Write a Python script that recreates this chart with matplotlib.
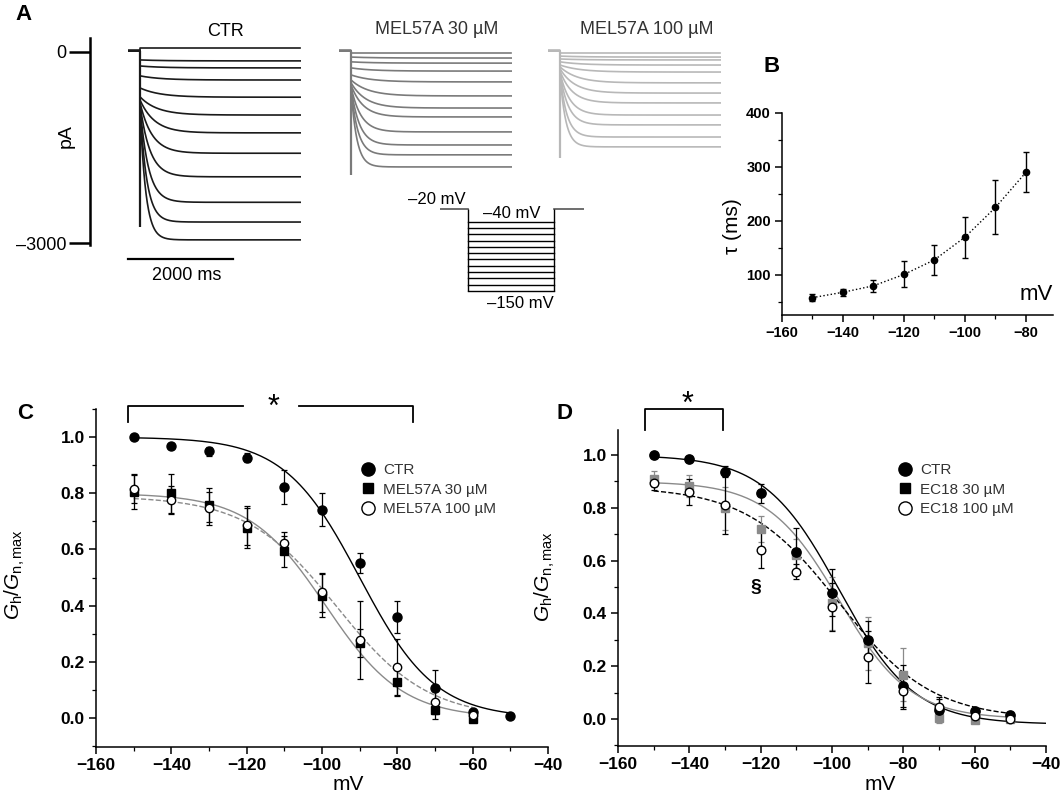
import numpy as np
import matplotlib
matplotlib.use('Agg')
import matplotlib.pyplot as plt
from matplotlib.lines import Line2D
from matplotlib.ticker import MultipleLocator

W, H = 1063, 798
plt.rcParams['font.family'] = ['Liberation Sans', 'DejaVu Sans']
plt.rcParams['mathtext.fontset'] = 'custom'
plt.rcParams['mathtext.rm'] = 'Liberation Sans'
plt.rcParams['mathtext.it'] = 'Liberation Sans:italic'
TICKFONT = ['Liberation Sans Narrow', 'Liberation Sans', 'DejaVu Sans']

# ---------------- panel A: Ih traces (pA), steps -40 ... -150 mV
step_mv = [-40, -50, -60, -70, -80, -90, -100, -110, -120, -130, -140, -150]
trace_tau_ms = [450, 450, 420, 400, 380, 330, 280, 230, 190, 160, 130, 110]
ctr_ss = [60, -140, -250, -440, -710, -990, -1270, -1590, -1960, -2360, -2670, -2950]
ctr_inst = [60, -125, -220, -375, -565, -705, -755, -800, -830, -865, -880, -910]
mel30_ss = [-15, -95, -175, -300, -470, -690, -880, -1020, -1255, -1460, -1615, -1805]
mel30_inst = [-15, -80, -155, -250, -360, -440, -485, -520, -550, -565, -580, -595]
mel100_ss = [-15, -80, -125, -205, -315, -485, -645, -800, -990, -1145, -1335, -1490]
mel100_inst = [-15, -65, -110, -155, -205, -235, -265, -300, -330, -345, -360, -375]
transient_min = {'CTR': -2750, 'MEL30': -1930, 'MEL100': -1665}
hold_pA = 20
step_len_ms = 3050

# ---------------- panel B: tau vs voltage
tau_v = [-150, -140, -130, -120, -110, -100, -90, -80]
tau_ms = [58, 68, 80, 101, 128, 170, 225, 290]
tau_err = [6, 6, 11, 24, 28, 38, 50, 37]

# ---------------- panel C: MEL57A
v_c = [-150, -140, -130, -120, -110, -100, -90, -80, -70, -60, -50]
c_ctr = [1.00, 0.97, 0.949, 0.927, 0.823, 0.742, 0.552, 0.360, 0.107, 0.02, 0.006]
c_ctr_err = [0.005, 0.01, 0.016, 0.015, 0.06, 0.06, 0.035, 0.057, 0.065, 0.01, 0.005]
c_mel30 = [0.805, 0.80, 0.758, 0.677, 0.593, 0.436, 0.268, 0.129, 0.027, -0.002]
c_mel30_err = [0.06, 0.07, 0.06, 0.07, 0.055, 0.075, 0.05, 0.05, 0.03, 0.005]
c_mel100 = [0.817, 0.776, 0.746, 0.686, 0.623, 0.447, 0.278, 0.181, 0.056, 0.012]
c_mel100_err = [0.05, 0.05, 0.06, 0.07, 0.04, 0.07, 0.14, 0.10, 0.04, 0.01]
# Boltzmann fits: (A1, A2, V50, k, v_start, v_end)
fit_c = {'CTR': (1.0, 0.0, -90, 10, -150, -50),
         'MEL30': (0.80, 0.0, -99, 10.2, -150, -60),
         'MEL100': (0.79, 0.0, -96, 12, -150, -60)}

# ---------------- panel D: EC18
v_d = [-150, -140, -130, -120, -110, -100, -90, -80, -70, -60, -50]
d_ctr = [1.00, 0.987, 0.937, 0.855, 0.634, 0.479, 0.30, 0.126, 0.035, 0.03, 0.016]
d_ctr_err = [0.005, 0.01, 0.02, 0.035, 0.09, 0.09, 0.07, 0.08, 0.04, 0.01, 0.01]
d_ec30 = [0.91, 0.883, 0.798, 0.719, 0.622, 0.439, 0.287, 0.168, 0.004, -0.003, 0.0]
d_ec30_err = [0.03, 0.04, 0.08, 0.05, 0.06, 0.10, 0.10, 0.10, 0.02, 0.01, 0.01]
d_ec100 = [0.893, 0.861, 0.811, 0.641, 0.559, 0.424, 0.235, 0.108, 0.045, 0.013, 0.0]
d_ec100_err = [0.025, 0.05, 0.11, 0.07, 0.03, 0.09, 0.10, 0.07, 0.04, 0.01, 0.01]
fit_d = {'CTR': (1.0, -0.02, -98, 10.5, -150, -40),
         'EC30': (0.90, 0.0, -98, 10, -150, -50),
         'EC100': (0.88, 0.0, -98, 13, -150, -50)}

sig_c = (-151.5, -75.9)
sig_d = (-152.4, -130.6)


def rect(l, t, r, b):
    return [l / W, 1 - b / H, (r - l) / W, (b - t) / H]


def fx(px):
    return px / W


def fy(py):
    return 1 - py / H


def boltz(p):
    a1, a2, v50, k, v0, v1 = p
    v = np.linspace(v0, v1, 200)
    return v, a2 + (a1 - a2) / (1 + np.exp((v - v50) / k))


def draw_traces(ax, ss, inst, tmin, color):
    t = np.linspace(0, step_len_ms, 400)
    for s, i0, tau in zip(ss, inst, trace_tau_ms):
        y = s + (i0 - s) * np.exp(-t / tau)
        ax.plot(np.r_[-230, 0, t], np.r_[hold_pA, hold_pA, y], color=color, lw=1.2)
    ax.vlines(0, tmin, hold_pA, color=color, lw=1.6)
    ax.set_xlim(-230, 3060)
    ax.set_ylim(-3109, 188)
    ax.axis('off')


fig = plt.figure(figsize=(W / 100, H / 100), dpi=100)

# ---- A
ax_ctr = fig.add_axes(rect(128, 40, 300.7, 250))
draw_traces(ax_ctr, ctr_ss, ctr_inst, transient_min['CTR'], '#1a1a1a')
ax_ctr.plot([-230, 1770], [-3250, -3250], color='k', lw=1.6, clip_on=False)
ax_m30 = fig.add_axes(rect(339, 40, 511.7, 250))
draw_traces(ax_m30, mel30_ss, mel30_inst, transient_min['MEL30'], '#7a7a7a')
ax_m100 = fig.add_axes(rect(548, 40, 720.7, 250))
draw_traces(ax_m100, mel100_ss, mel100_inst, transient_min['MEL100'], '#b8b8b8')

ax_sc = fig.add_axes(rect(90, 40, 100, 250))
ax_sc.set_ylim(-3109, 188)
for s in ['top', 'right', 'bottom']:
    ax_sc.spines[s].set_visible(False)
ax_sc.spines['left'].set_bounds(-3030, 220)
ax_sc.spines['left'].set_linewidth(1.8)
ax_sc.set_xticks([])
ax_sc.set_yticks([0, -3000])
ax_sc.set_yticklabels(['0', '–3000'], fontsize=13)
ax_sc.tick_params(axis='y', length=15, width=1.8, pad=2)
ax_sc.patch.set_alpha(0)

fig.text(fx(66), fy(136), 'pA', rotation=90, ha='center', va='center', fontsize=14)
fig.text(fx(187), fy(275), '2000 ms', ha='center', va='center', fontsize=13)
fig.text(fx(225), fy(31), 'CTR', ha='center', va='center', fontsize=13)
fig.text(fx(437), fy(30), 'MEL57A 30 µM', ha='center', va='center', fontsize=13, color='#333333')
fig.text(fx(647), fy(30), 'MEL57A 100 µM', ha='center', va='center', fontsize=13, color='#333333')
fig.text(fx(24), fy(14), 'A', ha='center', va='center', fontsize=16, fontweight='bold')

# protocol
ax_p = fig.add_axes(rect(440, 200, 584, 300))
ax_p.set_xlim(-977, 4047)
ax_p.set_ylim(-164.3, -5.7)
ax_p.plot([-977, 0], [-20, -20], color='#555555', lw=1.2)
ax_p.plot([3000, 4047], [-20, -20], color='#555555', lw=1.2)
for v in step_mv:
    ax_p.plot([0, 3000], [v, v], color='k', lw=1.0)
ax_p.vlines([0, 3000], min(step_mv), -20, color='k', lw=1.0)
ax_p.axis('off')
fig.text(fx(437), fy(199), '–20 mV', ha='center', va='center', fontsize=12)
fig.text(fx(512), fy(214), '–40 mV', ha='center', va='center', fontsize=12)
fig.text(fx(520), fy(303), '–150 mV', ha='center', va='center', fontsize=12)


def style_axes(ax, size):
    for s in ['top', 'right']:
        ax.spines[s].set_visible(False)
    for s in ['left', 'bottom']:
        ax.spines[s].set_linewidth(1.1)
    ax.tick_params(which='major', direction='out', length=5, width=1.1, pad=3)
    ax.tick_params(which='minor', direction='out', length=3, width=0.9)
    for lab in ax.get_xticklabels() + ax.get_yticklabels():
        lab.set_family(TICKFONT)
        lab.set_fontweight('bold')
        lab.set_fontsize(size)


# ---- B
ax_b = fig.add_axes(rect(782, 113, 1053, 315))
ax_b.plot(tau_v, tau_ms, ':', color='k', lw=1.0)
ax_b.errorbar(tau_v, tau_ms, yerr=tau_err, fmt='o', color='k', ms=4.5,
              capsize=2.5, elinewidth=1.0, capthick=1.0)
ax_b.set_xlim(-160, -71.1)
ax_b.set_ylim(25.9, 400)
ax_b.xaxis.set_major_locator(MultipleLocator(20))
ax_b.xaxis.set_minor_locator(MultipleLocator(10))
ax_b.set_yticks([100, 200, 300, 400])
ax_b.yaxis.set_minor_locator(MultipleLocator(50))
style_axes(ax_b, 10.5)
fig.text(fx(1036), fy(294), 'mV', ha='center', va='center', fontsize=16)
fig.text(fx(733), fy(226), 'τ (ms)', rotation=90, ha='center', va='center', fontsize=15)
fig.text(fx(772), fy(67), 'B', ha='center', va='center', fontsize=16, fontweight='bold')

# ---- C
ax_c = fig.add_axes(rect(96, 409, 548, 747))
for key, ls, col in [('CTR', '-', 'k'), ('MEL30', '-', '#8a8a8a'), ('MEL100', '--', '#8a8a8a')]:
    v, g = boltz(fit_c[key])
    ax_c.plot(v, g, ls=ls, color=col, lw=1.0)
ax_c.errorbar(v_c, c_ctr, yerr=c_ctr_err, fmt='o', color='k', ms=6.5,
              capsize=2.5, elinewidth=0.9, capthick=0.9)
ax_c.errorbar(v_c[:10], c_mel30, yerr=c_mel30_err, fmt='s', color='k', ms=5.8,
              capsize=2.5, elinewidth=0.9, capthick=0.9)
ax_c.errorbar(v_c[:10], c_mel100, yerr=c_mel100_err, fmt='o', color='k', mfc='white',
              ms=6, capsize=2.5, elinewidth=0.9, capthick=0.9)
ax_c.set_xlim(-160, -40)
ax_c.set_ylim(-0.103, 1.1)
ax_c.xaxis.set_major_locator(MultipleLocator(20))
ax_c.xaxis.set_minor_locator(MultipleLocator(10))
ax_c.set_yticks([0, 0.2, 0.4, 0.6, 0.8, 1.0])
ax_c.yaxis.set_minor_locator(MultipleLocator(0.1))
style_axes(ax_c, 12.5)
ax_c.set_xlabel('mV', fontsize=15)
ax_c.xaxis.set_label_coords(0.558, -0.083)
ax_c.set_ylabel(r'$G_{\mathrm{h}}/G_{\mathrm{n,max}}$', fontsize=15)
ax_c.yaxis.set_label_coords(-0.153, 0.509)
y1, y0 = 1.11, 1.053
ax_c.plot([sig_c[0], sig_c[0], -121], [y0, y1, y1], color='k', lw=1.3, clip_on=False)
ax_c.plot([-106, sig_c[1], sig_c[1]], [y1, y1, y0], color='k', lw=1.3, clip_on=False)
ax_c.text(-113, 1.105, '*', ha='center', va='center', fontsize=22, clip_on=False)
leg_c = [Line2D([], [], marker='o', color='k', ls='none', ms=9.5),
         Line2D([], [], marker='s', color='k', ls='none', ms=7.5),
         Line2D([], [], marker='o', color='k', mfc='white', ls='none', ms=9.5)]
ax_c.legend(leg_c, ['CTR', 'MEL57A 30 µM', 'MEL57A 100 µM'], loc='upper left',
            bbox_to_anchor=(0.568, 0.862), frameon=False, fontsize=11, borderpad=0,
            handlelength=1.0, handletextpad=0.5, labelspacing=0.35, labelcolor='#333333')
fig.text(fx(25), fy(413), 'C', ha='center', va='center', fontsize=16, fontweight='bold')

# ---- D
ax_d = fig.add_axes(rect(618, 430, 1046, 746))
for key, ls, col in [('CTR', '-', 'k'), ('EC30', '-', '#8a8a8a'), ('EC100', '--', 'k')]:
    v, g = boltz(fit_d[key])
    ax_d.plot(v, g, ls=ls, color=col, lw=1.0)
ax_d.errorbar(v_d, d_ec30, yerr=d_ec30_err, fmt='s', color='#8a8a8a', ms=6,
              capsize=2.5, elinewidth=0.9, capthick=0.9)
ax_d.errorbar(v_d, d_ctr, yerr=d_ctr_err, fmt='o', color='k', ms=6.7,
              capsize=2.5, elinewidth=0.9, capthick=0.9)
ax_d.errorbar(v_d, d_ec100, yerr=d_ec100_err, fmt='o', color='k', mfc='white',
              ms=6.2, capsize=2.5, elinewidth=0.9, capthick=0.9)
ax_d.set_xlim(-160, -40)
ax_d.set_ylim(-0.102, 1.095)
ax_d.xaxis.set_major_locator(MultipleLocator(20))
ax_d.xaxis.set_minor_locator(MultipleLocator(10))
ax_d.set_yticks([0, 0.2, 0.4, 0.6, 0.8, 1.0])
ax_d.yaxis.set_minor_locator(MultipleLocator(0.1))
style_axes(ax_d, 12.5)
ax_d.set_xlabel('mV', fontsize=15)
ax_d.xaxis.set_label_coords(0.612, -0.092)
ax_d.set_ylabel(r'$G_{\mathrm{h}}/G_{\mathrm{n,max}}$', fontsize=15)
ax_d.yaxis.set_label_coords(-0.1425, 0.535)
y1, y0 = 1.174, 1.095
ax_d.plot([sig_d[0], sig_d[0], sig_d[1], sig_d[1]], [y0, y1, y1, y0], color='k',
          lw=1.3, clip_on=False)
ax_d.text(-140.4, 1.19, '*', ha='center', va='center', fontsize=22, clip_on=False)
ax_d.text(-121.3, 0.50, '§', ha='center', va='center', fontsize=14, fontweight='bold')
leg_d = [Line2D([], [], marker='o', color='k', ls='none', ms=9.5),
         Line2D([], [], marker='s', color='k', ls='none', ms=7.5),
         Line2D([], [], marker='o', color='k', mfc='white', ls='none', ms=9.5)]
ax_d.legend(leg_d, ['CTR', 'EC18 30 µM', 'EC18 100 µM'], loc='upper left',
            bbox_to_anchor=(0.635, 0.919), frameon=False, fontsize=11, borderpad=0,
            handlelength=1.0, handletextpad=0.5, labelspacing=0.35, labelcolor='#333333')
fig.text(fx(565), fy(413), 'D', ha='center', va='center', fontsize=16, fontweight='bold')

fig.savefig('out.png', dpi=100)
